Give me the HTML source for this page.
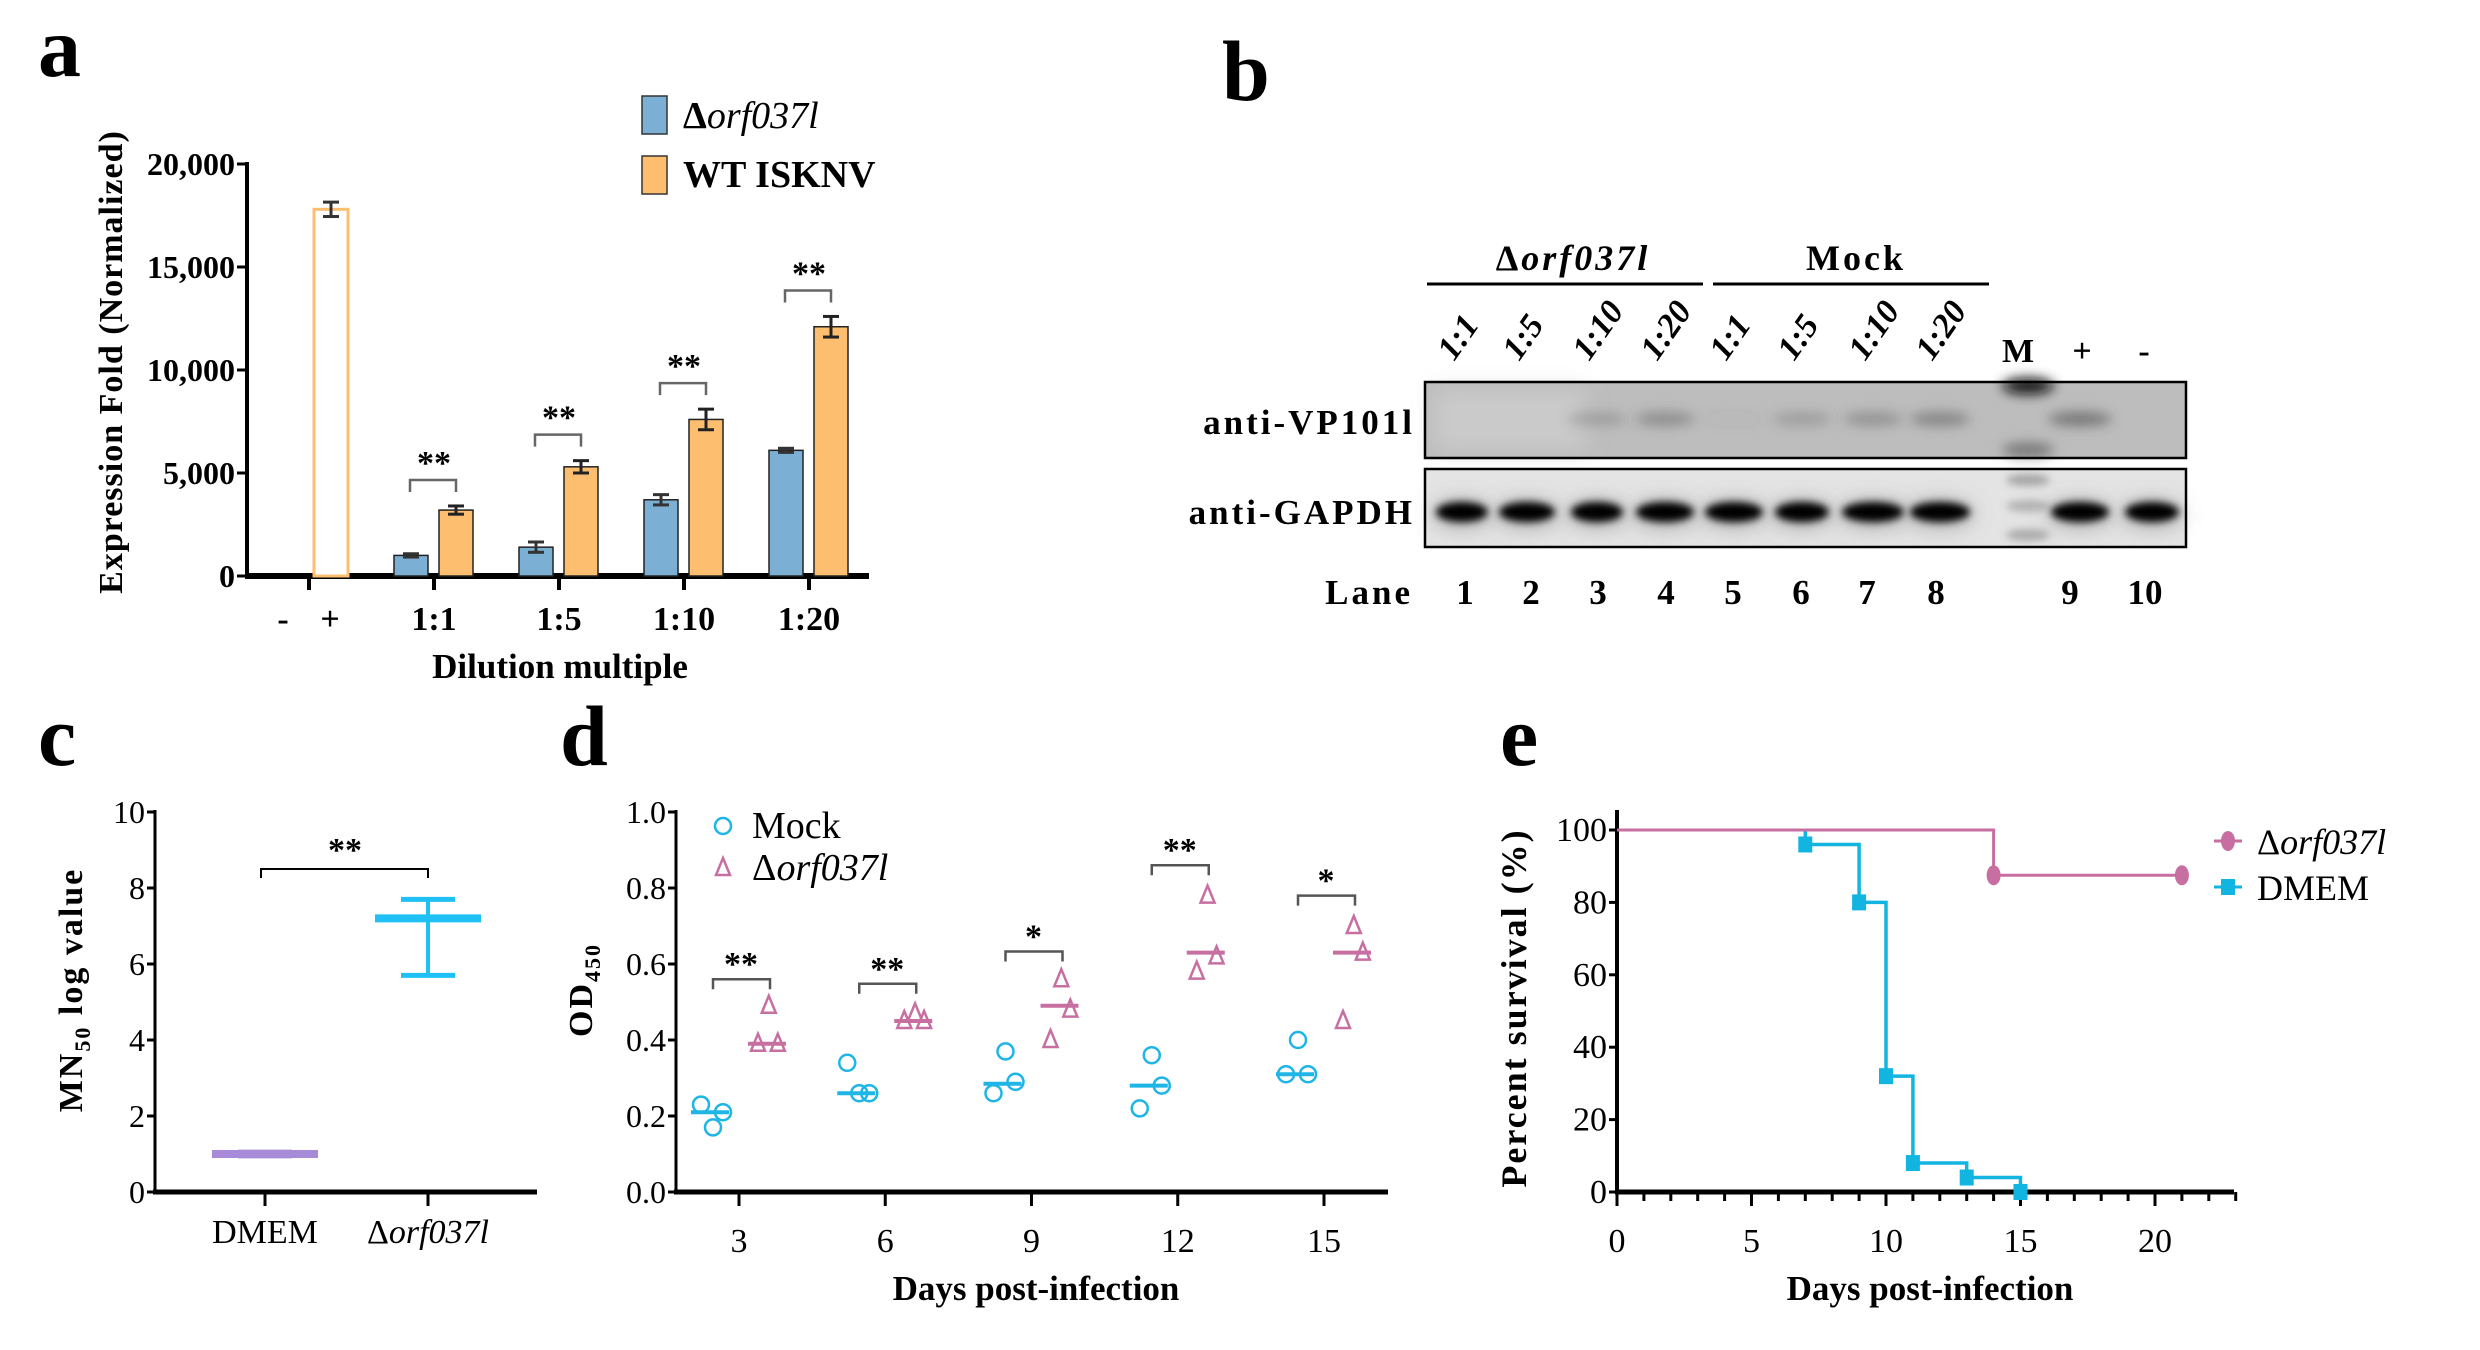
<!DOCTYPE html>
<html><head><meta charset="utf-8"><style>
html,body{margin:0;padding:0;background:#fff;}
svg{display:block;font-family:"Liberation Serif",serif;}
text{fill:#000;}
</style></head><body>
<svg id="fig" width="2480" height="1350" viewBox="0 0 2480 1350">
<defs>
<filter id="blur6" x="-50%" y="-100%" width="200%" height="300%"><feGaussianBlur stdDeviation="6"/></filter>
<filter id="blur4" x="-50%" y="-100%" width="200%" height="300%"><feGaussianBlur stdDeviation="4"/></filter>
<filter id="blur10" x="-50%" y="-100%" width="200%" height="300%"><feGaussianBlur stdDeviation="10"/></filter>
</defs>
<g id="pa"></g>
<g id="pb"></g>
<g id="pc"></g>
<g id="pd"></g>
<g id="pe"></g>
</svg>
<script>
// ---- Panel a data ----
const aCategories = ["1:1","1:5","1:10","1:20"];
const aDelta = [1000,1400,3700,6100];
const aDeltaErr = [80,250,250,100];
const aWT = [3200,5300,7600,12100];
const aWTErr = [200,300,500,500];
const aPlus = 17800;
const aPlusErr = 350;
const aTicks = [0,5000,10000,15000,20000];
const aTickLabels = ["0","5,000","10,000","15,000","20,000"];
const aSig = ["**","**","**","**"];
// ---- Panel c data ----
const cCategories = ["DMEM","Δorf037l"];
const cMean = [1.0,7.2];
const cHigh = [1.05,7.7];
const cLow = [0.95,5.7];
const cTicks = [0,2,4,6,8,10];
// ---- Panel d data ----
const dDays = [3,6,9,12,15];
const dMock = [[0.23,0.17,0.21],[0.34,0.26,0.26],[0.26,0.37,0.29],[0.22,0.36,0.28],[0.31,0.40,0.31]];
const dMockMed = [0.21,0.26,0.285,0.28,0.31];
const dDel = [[0.39,0.49,0.39],[0.45,0.47,0.45],[0.40,0.56,0.48],[0.58,0.78,0.62],[0.45,0.70,0.63]];
const dDelMed = [0.39,0.45,0.49,0.63,0.63];
const dSig = ["**","**","*","**","*"];
const dSigY = [0.56,0.548,0.633,0.86,0.78];
const dTicks = [0,0.2,0.4,0.6,0.8,1.0];
const dTickLabels = ["0.0","0.2","0.4","0.6","0.8","1.0"];
// ---- Panel e data ----
const eDelDays = [0,14,21];
const eDelSurv = [100,87.5,87.5];
const eDelMarks = [14,21];
const eDmemDays = [7,9,10,11,13,15];
const eDmemSurv = [96,80,32,8,4,0];
const eDmemMarks = [7,9,10,11,13,15];
const eXTicks = [0,5,10,15,20];
const eYTicks = [0,20,40,60,80,100];

const NS="http://www.w3.org/2000/svg";
function mk(parent,tag,attrs,txt){const e=document.createElementNS(NS,tag);for(const k in attrs)e.setAttribute(k,attrs[k]);if(txt!==undefined)e.textContent=txt;parent.appendChild(e);return e;}
function line(p,x1,y1,x2,y2,c,w){return mk(p,"line",{x1,y1,x2,y2,stroke:c||"#000","stroke-width":w||3});}

// ================= Panel a =================
(function(){
const g=document.getElementById("pa");
const X0=247,Y0=576,YT=164,XE=869;
const ya=v=>Y0-(v/20000)*(Y0-YT);
const lbl=mk(g,"text",{x:38,y:76,"font-size":86,"font-weight":"bold"},"a");

line(g,X0,Y0,X0,YT-2,"#000",4);
line(g,X0-2,Y0,XE,Y0,"#000",6);
aTicks.forEach((t,i)=>{line(g,X0-10,ya(t),X0,ya(t),"#000",3);
 const tl=mk(g,"text",{x:X0-12,y:ya(t)+11,"font-size":32,"text-anchor":"end","font-weight":"bold"},aTickLabels[i]);
 });
const yt=mk(g,"text",{transform:"translate(122,362) rotate(-90)","font-size":34,"font-weight":"bold","text-anchor":"middle","letter-spacing":"1"},"Expression Fold (Normalized)");

const xt=mk(g,"text",{x:560,y:678,"font-size":35,"font-weight":"bold","text-anchor":"middle"},"Dilution multiple");

line(g,309,Y0,309,Y0+14,"#000",4);
mk(g,"text",{x:283,y:630,"font-size":34,"font-weight":"bold","text-anchor":"middle"},"-");
mk(g,"text",{x:330,y:630,"font-size":34,"font-weight":"bold","text-anchor":"middle"},"+");
const bw=34;
const pb=mk(g,"rect",{x:314,y:ya(aPlus),width:bw,height:Y0-ya(aPlus),fill:"#fff",stroke:"#fdbf6f","stroke-width":3});

function err(x,v,e,c){line(g,x,ya(v+e),x,ya(v-e),c,3);line(g,x-8,ya(v+e),x+8,ya(v+e),c,3);line(g,x-8,ya(v-e),x+8,ya(v-e),c,3);}
err(331,aPlus,aPlusErr,"#333");
aCategories.forEach((c,i)=>{
 const cx=434+i*125;
 line(g,cx,Y0,cx,Y0+14,"#000",4);
 const tl=mk(g,"text",{x:cx,y:630,"font-size":34,"font-weight":"bold","text-anchor":"middle"},c);
 
 const b1=mk(g,"rect",{x:cx-40,y:ya(aDelta[i]),width:bw,height:Y0-ya(aDelta[i]),fill:"#7bafd4",stroke:"#222","stroke-width":1.5});
 
 const b2=mk(g,"rect",{x:cx+5,y:ya(aWT[i]),width:bw,height:Y0-ya(aWT[i]),fill:"#fdbf6f",stroke:"#222","stroke-width":1.5});
 
 err(cx-23,aDelta[i],aDeltaErr[i],"#333");
 err(cx+22,aWT[i],aWTErr[i],"#222");
 const top=Math.min(ya(aWT[i]+aWTErr[i]),ya(aDelta[i]))-26;
 const br=mk(g,"path",{d:`M${cx-24},${top+12}V${top}H${cx+22}V${top+12}`,fill:"none",stroke:"#666","stroke-width":2.5});
 
 const st=mk(g,"text",{x:cx,y:top-6,"font-size":34,"font-weight":"bold","text-anchor":"middle"},aSig[i]);
 
});
const l1=mk(g,"rect",{x:642,y:96,width:25,height:38,fill:"#7bafd4",stroke:"#333","stroke-width":1.5});

const l2=mk(g,"rect",{x:642,y:156,width:25,height:38,fill:"#fdbf6f",stroke:"#333","stroke-width":1.5});

const t1=mk(g,"text",{x:683,y:128,"font-size":38,"font-weight":"bold"});
t1.innerHTML='Δ<tspan font-style="italic" font-weight="normal">orf037l</tspan>';

const t2=mk(g,"text",{x:683,y:187,"font-size":38,"font-weight":"bold"},"WT ISKNV");

})();

// ================= Panel b (western blot) =================
(function(){
const g=document.getElementById("pb");
const lb=mk(g,"text",{x:1222,y:100,"font-size":86,"font-weight":"bold"},"b");

const gt=mk(g,"text",{x:1573,y:270,"font-size":36,"font-weight":"bold","text-anchor":"middle","letter-spacing":"3"});
gt.innerHTML='Δ<tspan font-style="italic">orf037l</tspan>';

const gm=mk(g,"text",{x:1856,y:270,"font-size":36,"font-weight":"bold","text-anchor":"middle","letter-spacing":"3"},"Mock");

line(g,1427,284,1703,284,"#000",3);line(g,1713,284,1989,284,"#000",3);
const dl=["1:1","1:5","1:10","1:20","1:1","1:5","1:10","1:20"];
const lx=[1462,1527,1597,1665,1734,1802,1873,1940];
dl.forEach((d,i)=>{const t=mk(g,"text",{transform:`translate(${lx[i]-8},362) rotate(-55)`,"font-size":34,"font-weight":"bold","font-style":"italic"},d);
 });
mk(g,"text",{x:2018,y:362,"font-size":34,"font-weight":"bold","text-anchor":"middle"},"M");
mk(g,"text",{x:2082,y:362,"font-size":34,"font-weight":"bold","text-anchor":"middle"},"+");
mk(g,"text",{x:2144,y:362,"font-size":34,"font-weight":"bold","text-anchor":"middle"},"-");
const b1=mk(g,"g",{});
mk(b1,"rect",{x:1425,y:382,width:761,height:76,fill:"#bdbdbd"});
mk(b1,"rect",{x:1435,y:390,width:150,height:60,fill:"#cacaca",filter:"url(#blur10)"});
const vpI=[0,0,0.3,0.45,0.05,0.3,0.4,0.55];
lx.forEach((x,i)=>{if(vpI[i]>0)mk(b1,"ellipse",{cx:x,cy:419,rx:30,ry:7,fill:"#555","fill-opacity":vpI[i],filter:"url(#blur6)"});});
mk(b1,"ellipse",{cx:2080,cy:419,rx:32,ry:7,fill:"#444","fill-opacity":0.6,filter:"url(#blur6)"});
mk(b1,"ellipse",{cx:2028,cy:386,rx:26,ry:8,fill:"#111",filter:"url(#blur6)"});
mk(b1,"ellipse",{cx:2028,cy:450,rx:26,ry:7,fill:"#555","fill-opacity":0.7,filter:"url(#blur6)"});
mk(b1,"rect",{x:1425,y:382,width:761,height:76,fill:"none",stroke:"#000","stroke-width":2.5});
const b2=mk(g,"g",{});
mk(b2,"rect",{x:1425,y:469,width:761,height:78,fill:"#e4e4e4"});
const gx=lx.concat([2080,2152]);
const gw=[26,28,26,29,29,27,31,30,29,27];
gx.forEach((x,i)=>{mk(b2,"ellipse",{cx:x,cy:514,rx:gw[i]+4,ry:14,fill:"#777","fill-opacity":0.5,filter:"url(#blur10)"});
 mk(b2,"ellipse",{cx:x,cy:512,rx:gw[i],ry:10,fill:"#000",filter:"url(#blur4)"});});
[[480,0.5],[506,0.4],[535,0.45]].forEach(m=>mk(b2,"ellipse",{cx:2028,cy:m[0],rx:22,ry:6,fill:"#666","fill-opacity":m[1],filter:"url(#blur4)"}));
mk(b2,"rect",{x:1425,y:469,width:761,height:78,fill:"none",stroke:"#000","stroke-width":2.5});
const a1=mk(g,"text",{x:1415,y:434,"font-size":35,"font-weight":"bold","text-anchor":"end","letter-spacing":"3"},"anti-VP101l");

const a2=mk(g,"text",{x:1415,y:524,"font-size":35,"font-weight":"bold","text-anchor":"end","letter-spacing":"3"},"anti-GAPDH");

mk(g,"text",{x:1413,y:604,"font-size":35,"font-weight":"bold","text-anchor":"end","letter-spacing":"3"},"Lane");
const lnx=[1465,1531,1598,1666,1733,1801,1867,1936,2070,2145];
lnx.forEach((x,i)=>{const t=mk(g,"text",{x:x,y:604,"font-size":35,"font-weight":"bold","text-anchor":"middle"},String(i+1));
 });
})();

// ================= Panel c =================
(function(){
const g=document.getElementById("pc");
const X0=155,Y0=1192,YT=812;
const yc=v=>Y0-(v/10)*(Y0-YT);
const lb=mk(g,"text",{x:38,y:765,"font-size":86,"font-weight":"bold"},"c");

line(g,X0,Y0,X0,YT-2,"#000",3);line(g,X0-2,Y0,537,Y0,"#000",5);
cTicks.forEach(t=>{line(g,X0-8,yc(t),X0,yc(t),"#000",3);
 const tl=mk(g,"text",{x:X0-10,y:yc(t)+11,"font-size":32,"text-anchor":"end"},String(t));
 });
const yt=mk(g,"text",{transform:"translate(82,990) rotate(-90)","font-size":34,"font-weight":"bold","text-anchor":"middle","letter-spacing":"2"});
yt.innerHTML='MN<tspan font-size="22" dy="8">50</tspan><tspan dy="-8"> log value</tspan>';

const cx=[265,428];const col=["#a78bd8","#1ec0f5"];
cCategories.forEach((c,i)=>{
 line(g,cx[i],Y0,cx[i],Y0+14,"#000",3);
 const t=mk(g,"text",{x:cx[i],y:1243,"font-size":34,"text-anchor":"middle"});
 if(i===0)t.textContent=c;else t.innerHTML='Δ<tspan font-style="italic">orf037l</tspan>';
 
 const m=mk(g,"g",{});
 line(m,cx[i],yc(cHigh[i]),cx[i],yc(cLow[i]),col[i],4);
 line(m,cx[i]-27,yc(cHigh[i]),cx[i]+27,yc(cHigh[i]),col[i],5);
 line(m,cx[i]-27,yc(cLow[i]),cx[i]+27,yc(cLow[i]),col[i],5);
 line(m,cx[i]-53,yc(cMean[i]),cx[i]+53,yc(cMean[i]),col[i],8);
});
mk(g,"path",{d:`M261,${yc(8.5)+9}V${yc(8.5)}H428V${yc(8.5)+9}`,fill:"none",stroke:"#000","stroke-width":2});
const st=mk(g,"text",{x:345,y:yc(8.5)-8,"font-size":34,"font-weight":"bold","text-anchor":"middle"},"**");

})();

// ================= Panel d =================
(function(){
const g=document.getElementById("pd");
const X0=676,Y0=1192,YT=812;
const yd=v=>Y0-v*(Y0-YT);
const xd=d=>739+(d-3)/3*146.25;
const lb=mk(g,"text",{x:560,y:765,"font-size":86,"font-weight":"bold"},"d");

line(g,X0,Y0,X0,YT-2,"#000",3);line(g,X0-2,Y0,1388,Y0,"#000",5);
dTicks.forEach((t,i)=>{line(g,X0-8,yd(t),X0,yd(t),"#000",3);
 const tl=mk(g,"text",{x:X0-10,y:yd(t)+11,"font-size":32,"text-anchor":"end"},dTickLabels[i]);
 });
const yt=mk(g,"text",{transform:"translate(592,990) rotate(-90)","font-size":34,"font-weight":"bold","text-anchor":"middle","letter-spacing":"2"});
yt.innerHTML='OD<tspan font-size="22" dy="8">450</tspan>';

const xt=mk(g,"text",{x:1036,y:1300,"font-size":35,"font-weight":"bold","text-anchor":"middle"},"Days post-infection");

const mc="#1fb5e6",pc="#c66fa0";
const jit=[-10,2,12];
dDays.forEach((d,i)=>{
 const x=xd(d);
 line(g,x,Y0,x,Y0+14,"#000",3);
 const tl=mk(g,"text",{x:x,y:1252,"font-size":34,"text-anchor":"middle"},String(d));
 
 dMock[i].forEach((v,j)=>{const c=mk(g,"circle",{cx:x-28+jit[j],cy:yd(v),r:8,fill:"none",stroke:mc,"stroke-width":2.5});
  });
 const mm=mk(g,"line",{x1:x-48,x2:x-10,y1:yd(dMockMed[i]),y2:yd(dMockMed[i]),stroke:mc,"stroke-width":4});
 
 dDel[i].forEach((v,j)=>{const px=x+28+jit[j]*0.9,py=yd(v);
  const t=mk(g,"path",{d:`M${px},${py-10}L${px+7},${py+7}L${px-7},${py+7}Z`,fill:"none",stroke:pc,"stroke-width":2.5});
  });
 const dm=mk(g,"line",{x1:x+9,x2:x+47,y1:yd(dDelMed[i]),y2:yd(dDelMed[i]),stroke:pc,"stroke-width":4});
 
 const by=yd(dSigY[i]);
 const br=mk(g,"path",{d:`M${x-26},${by+10}V${by}H${x+31}V${by+10}`,fill:"none",stroke:"#555","stroke-width":2.5});
 
 const st=mk(g,"text",{x:x+2,y:by-4,"font-size":34,"font-weight":"bold","text-anchor":"middle"},dSig[i]);
 
});
mk(g,"circle",{cx:723,cy:826,r:8,fill:"none",stroke:mc,"stroke-width":2.5});
const l1=mk(g,"text",{x:752,y:838,"font-size":38},"Mock");

mk(g,"path",{d:"M723,858L730,875L716,875Z",fill:"none",stroke:pc,"stroke-width":2.5});
const l2=mk(g,"text",{x:752,y:880,"font-size":38});
l2.innerHTML='Δ<tspan font-style="italic">orf037l</tspan>';

})();

// ================= Panel e =================
(function(){
const g=document.getElementById("pe");
const X0=1617,Y0=1192,Y100=830;
const xe=d=>X0+d*26.9;
const ye=v=>Y0-v/100*(Y0-Y100);
const lb=mk(g,"text",{x:1500,y:765,"font-size":86,"font-weight":"bold"},"e");

line(g,X0,Y0+2,X0,810,"#000",4);line(g,X0-2,Y0,2234,Y0,"#000",5);
for(let d=0;d<=23;d++){line(g,xe(d),Y0,xe(d),Y0+(d%5===0?14:9),"#000",3);}
eXTicks.forEach(t=>{const tl=mk(g,"text",{x:xe(t),y:1252,"font-size":34,"text-anchor":"middle"},String(t));
 });
eYTicks.forEach(t=>{line(g,X0-8,ye(t),X0,ye(t),"#000",3);
 const tl=mk(g,"text",{x:X0-10,y:ye(t)+11,"font-size":34,"text-anchor":"end"},String(t));
 });
const yt=mk(g,"text",{transform:"translate(1526,1008) rotate(-90)","font-size":36,"font-weight":"bold","text-anchor":"middle","letter-spacing":"2"},"Percent survival (%)");

const xt=mk(g,"text",{x:1930,y:1300,"font-size":35,"font-weight":"bold","text-anchor":"middle"},"Days post-infection");

const pc="#c66fa0",cc="#12b5e0";
// DMEM: starts at 100 (covered by pink line until first event), drops at first day
let dd=`M${xe(eDmemDays[0])},${ye(100)}V${ye(eDmemSurv[0])}`;
for(let i=1;i<eDmemDays.length;i++){dd+=`H${xe(eDmemDays[i])}V${ye(eDmemSurv[i])}`;}
const s2=mk(g,"path",{d:dd,fill:"none",stroke:cc,"stroke-width":3.5});

let pd=`M${xe(eDelDays[0])},${ye(eDelSurv[0])}`;
for(let i=1;i<eDelDays.length;i++){pd+=`H${xe(eDelDays[i])}V${ye(eDelSurv[i])}`;}
const s1=mk(g,"path",{d:pd,fill:"none",stroke:pc,"stroke-width":3});

function survAt(days,surv,d,init){let v=init;for(let i=0;i<days.length;i++)if(days[i]<=d)v=surv[i];return v;}
eDelMarks.forEach(d=>{const c=mk(g,"ellipse",{cx:xe(d),cy:ye(survAt(eDelDays,eDelSurv,d,100)),rx:7,ry:10,fill:pc});
 });
eDmemMarks.forEach(d=>{const v=survAt(eDmemDays,eDmemSurv,d,100);const r=mk(g,"rect",{x:xe(d)-7,y:ye(v)-8,width:14,height:16,fill:cc});
 });
line(g,2214,841,2242,841,pc,3);mk(g,"ellipse",{cx:2228,cy:841,rx:7,ry:10,fill:pc});
const l1=mk(g,"text",{x:2257,y:854,"font-size":36});
l1.innerHTML='Δ<tspan font-style="italic">orf037l</tspan>';

line(g,2214,887,2242,887,cc,3);mk(g,"rect",{x:2221,y:879,width:14,height:16,fill:cc});
const l2=mk(g,"text",{x:2257,y:900,"font-size":36},"DMEM");

})();
</script>
</body></html>
